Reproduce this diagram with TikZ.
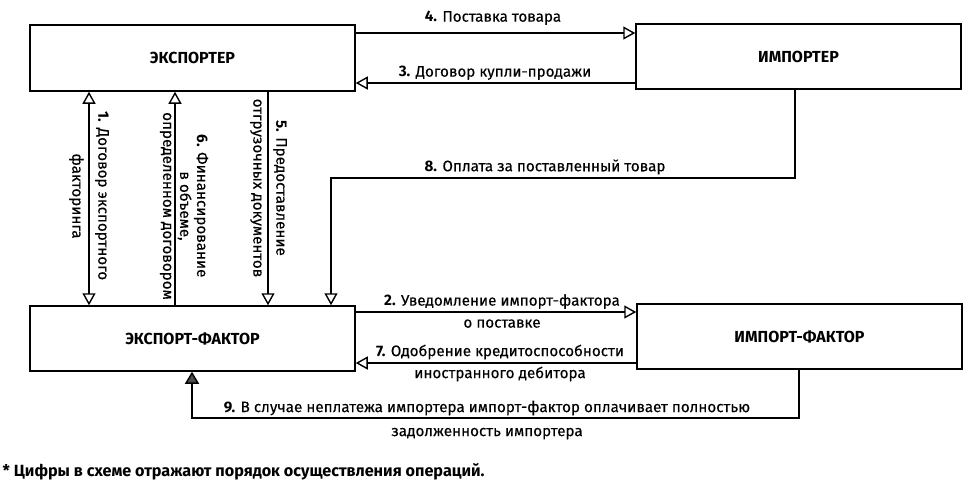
\documentclass[tikz,border=0pt]{standalone}
\usepackage{fontspec}
\setmainfont{Fira Sans}[UprightFeatures={FakeBold=0.3}]
\usetikzlibrary{arrows.meta}
\begin{document}
\begin{tikzpicture}[x=1pt,y=-1pt, line width=1.4pt,
  box/.style={draw, line width=1.5pt, minimum width=325pt, minimum height=65pt, inner sep=0pt, font=\fontsize{16}{18}\selectfont\bfseries},
  lbl/.style={font=\fontsize{15.2}{22}\selectfont, align=center, inner sep=0pt},
  tip/.style={-{Triangle[open,length=12pt,width=13pt]}},
  dtip/.style={{Triangle[open,length=12pt,width=13pt]}-{Triangle[open,length=12pt,width=13pt]}},
  ftip/.style={-{Triangle[length=12pt,width=14pt,fill=black!70]}}
]
\useasboundingbox (0,0) rectangle (973,496);
% boxes
\node[box, minimum height=66pt] (exp) at (192.5,58) {ЭКСПОРТЕР};
\node[box] (imp) at (798.5,56.5) {ИМПОРТЕР};
\node[box] (ef) at (192.5,338.5) {ЭКСПОРТ-ФАКТОР};
\node[box] (if) at (799.5,336.5) {ИМПОРТ-ФАКТОР};
% helper coordinates
\coordinate (y4) at (0,33);
\coordinate (y3) at (0,83);
\coordinate (x1) at (89,0);
\coordinate (x6) at (175,0);
\coordinate (x5) at (268,0);
\coordinate (k8a) at (795,178);
\coordinate (k8b) at (331,178);
\coordinate (y2) at (0,312);
\coordinate (y7) at (0,363);
\coordinate (k9a) at (799,418);
\coordinate (k9b) at (192,418);
% connectors
\draw[tip] (exp.east |- y4) -- (imp.west |- y4);
\draw[tip] (imp.west |- y3) -- (exp.east |- y3);
\draw[dtip] (exp.south -| x1) -- (ef.north -| x1);
\draw[tip] (ef.north -| x6) -- (exp.south -| x6);
\draw[tip] (exp.south -| x5) -- (ef.north -| x5);
\draw[tip] (imp.south -| k8a) -- (k8a) -- (k8b) -- (ef.north -| k8b);
\draw[tip] (ef.east |- y2) -- (if.west |- y2);
\draw[tip] (if.west |- y7) -- (ef.east |- y7);
\draw[ftip] (if.south -| k9a) -- (k9a) -- (k9b) -- (ef.south -| k9b);
% labels
\node[lbl] (l4) at (493,18) {\textbf{4.} Поставка товара};
\node[lbl] (l3) at (495,73) {\textbf{3.} Договор купли-продажи};
\node[lbl] (l8) at (545,167) {\textbf{8.} Оплата за поставленный товар};
\node[lbl] (l2) at (502,311) {\textbf{2.} Уведомление импорт-фактора\\о поставке};
\node[lbl] (l7) at (500,363) {\textbf{7.} Одобрение кредитоспособности\\иностранного дебитора};
\node[lbl, font=\fontsize{15.2}{24}\selectfont] (l9) at (487,420) {\textbf{9.} В случае неплатежа импортера импорт-фактор оплачивает полностью\\задолженность импортера};
\node[lbl, rotate=-90, font=\fontsize{15.2}{26}\selectfont] (l1) at (89,196) {\textbf{1.} Договор экспортного\\факторинга};
\node[lbl, rotate=-90, font=\fontsize{15.2}{17}\selectfont] (l6) at (184,206) {\textbf{6.} Финансирование\\в объеме,\\определенном договором};
\node[lbl, rotate=-90, font=\fontsize{15.2}{23}\selectfont] (l5) at (268.5,188) {\textbf{5.} Предоставление\\отгрузочных документов};
\node[anchor=west, inner sep=0pt, font=\fontsize{16.2}{18}\selectfont\bfseries] (fn) at (2,472) {* Цифры в схеме отражают порядок осуществления операций.};
\end{tikzpicture}
\end{document}
